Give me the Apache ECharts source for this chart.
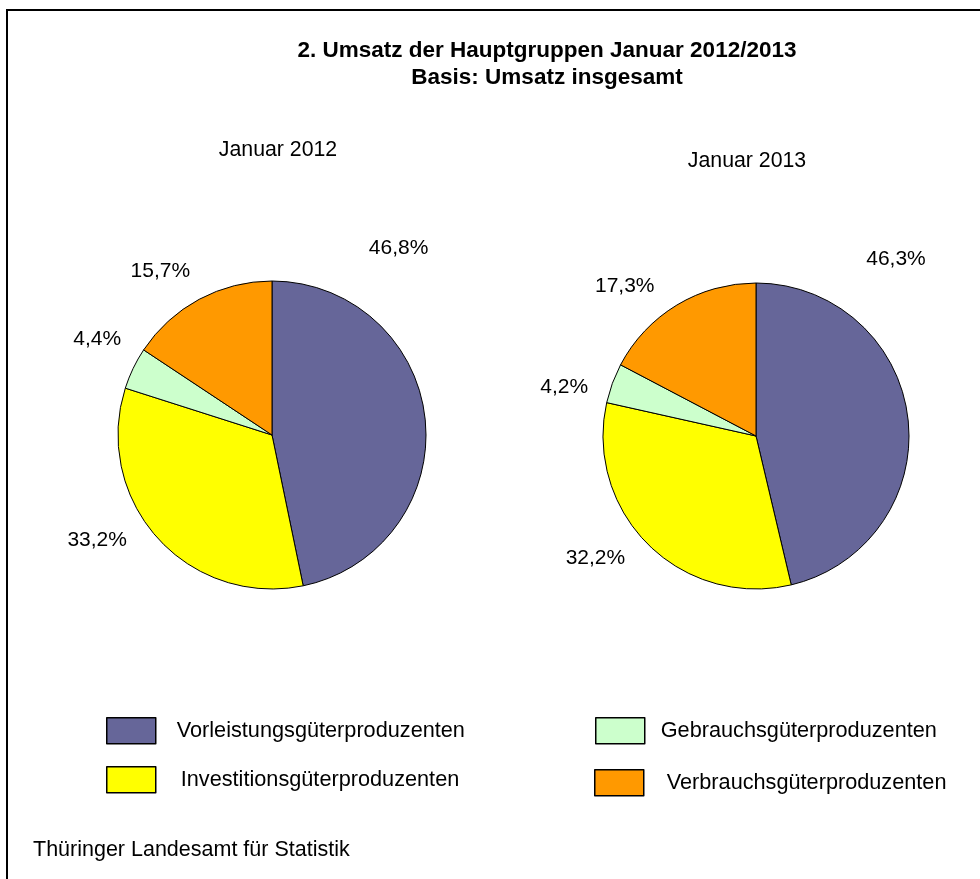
<!DOCTYPE html>
<html>
<head>
<meta charset="utf-8">
<script src="https://cdn.jsdelivr.net/npm/echarts@6/dist/echarts.min.js"></script>
<style>
  html, body { margin: 0; padding: 0; background: #fff; }
  #main { width: 980px; height: 879px; }
</style>
</head>
<body>
<div id="main"></div>
<script>
// Hauptgruppen, im Uhrzeigersinn ab 12 Uhr
const groups = ['Vorleistungsgüterproduzenten', 'Investitionsgüterproduzenten', 'Gebrauchsgüterproduzenten', 'Verbrauchsgüterproduzenten'];
const colors = ['#666699', '#FFFF00', '#CCFFCC', '#FF9900'];
const share2012 = [46.8, 33.2, 4.4, 15.7];
const share2013 = [46.3, 32.2, 4.2, 17.3];

// Excel hat die Beschriftungen etwas verschoben (Drehung in Grad gegen die Segmentmitte)
const turn2012 = [-50, 11, 3, -6];
const turn2013 = [-45, 8, -6, -10];

const font = 'Liberation Sans, Arial, sans-serif';
const labelGap = 19;
const bigLabelGap = 46;

function labelPlacer(values, turns, cx, cy, r) {
    const total = values.reduce((a, b) => a + b, 0);
    return function (params) {
        const i = params.dataIndex;
        let before = 0;
        for (let k = 0; k < i; k++) before += values[k];
        const deg = (before + values[i] / 2) / total * 360 + turns[i];
        const ang = deg * Math.PI / 180;
        const dx = Math.sin(ang), dy = -Math.cos(ang);
        const w = params.labelRect.width, h = params.labelRect.height;
        const gap = i === 0 ? bigLabelGap : labelGap;
        const d = r + gap + Math.abs(dx) * w / 2 + Math.abs(dy) * h / 2;
        return { x: cx + dx * d, y: cy + dy * d, align: 'center', verticalAlign: 'middle' };
    };
}

function pieSeries(name, values, turns, cx, cy, r) {
    return {
        name: name,
        type: 'pie',
        center: [cx, cy],
        radius: r,
        startAngle: 90,
        clockwise: true,
        avoidLabelOverlap: false,
        silent: true,
        data: groups.map((g, i) => ({ name: g, value: values[i], itemStyle: { color: colors[i] } })),
        itemStyle: { borderColor: '#000', borderWidth: 1 },
        label: {
            show: true,
            position: 'outside',
            fontFamily: font,
            fontSize: 21,
            color: '#000',
            formatter: (p) => p.value.toFixed(1).replace('.', ',') + '%'
        },
        labelLine: { show: false },
        labelLayout: labelPlacer(values, turns, cx, cy, r),
        emphasis: { disabled: true }
    };
}

function legendItem(name, left, top, pad) {
    return {
        data: [name],
        left: left,
        top: top,
        padding: 0,
        orient: 'horizontal',
        selectedMode: false,
        icon: 'rect',
        itemWidth: 49,
        itemHeight: 26,
        itemStyle: { borderColor: '#000', borderWidth: 1.5 },
        textStyle: { fontFamily: font, fontSize: 21.7, color: '#000', padding: pad }
    };
}

const chart = echarts.init(document.getElementById('main'));
chart.setOption({
    backgroundColor: '#fff',
    animation: false,
    title: [
        {
            text: '2. Umsatz der Hauptgruppen Januar 2012/2013\nBasis: Umsatz insgesamt',
            left: 547, top: 37, textAlign: 'center', padding: 0,
            textStyle: { fontFamily: font, fontSize: 22.5, fontWeight: 'bold', color: '#000', lineHeight: 27 }
        },
        {
            text: 'Januar 2012', left: 278, top: 139, textAlign: 'center', padding: 0,
            textStyle: { fontFamily: font, fontSize: 21.3, fontWeight: 'normal', color: '#000', lineHeight: 22 }
        },
        {
            text: 'Januar 2013', left: 747, top: 150, textAlign: 'center', padding: 0,
            textStyle: { fontFamily: font, fontSize: 21.3, fontWeight: 'normal', color: '#000', lineHeight: 22 }
        },
        {
            text: 'Thüringer Landesamt für Statistik', left: 33, top: 839, padding: 0,
            textStyle: { fontFamily: font, fontSize: 21.5, fontWeight: 'normal', color: '#000', lineHeight: 22 }
        }
    ],
    legend: [
        legendItem(groups[0], 106, 717, [0, 0, 0, 16]),
        legendItem(groups[1], 106, 766, [0, 0, 0, 20]),
        legendItem(groups[2], 595, 717, [0, 0, 0, 11]),
        legendItem(groups[3], 594, 769, [8, 0, 0, 18])
    ],
    graphic: [{
        type: 'rect',
        shape: { x: 7, y: 10, width: 1200, height: 1200 },
        style: { fill: 'none', stroke: '#000', lineWidth: 2 },
        silent: true
    }],
    series: [
        pieSeries('Januar 2012', share2012, turn2012, 272, 435, 154),
        pieSeries('Januar 2013', share2013, turn2013, 756, 436, 153)
    ]
});
</script>
</body>
</html>
